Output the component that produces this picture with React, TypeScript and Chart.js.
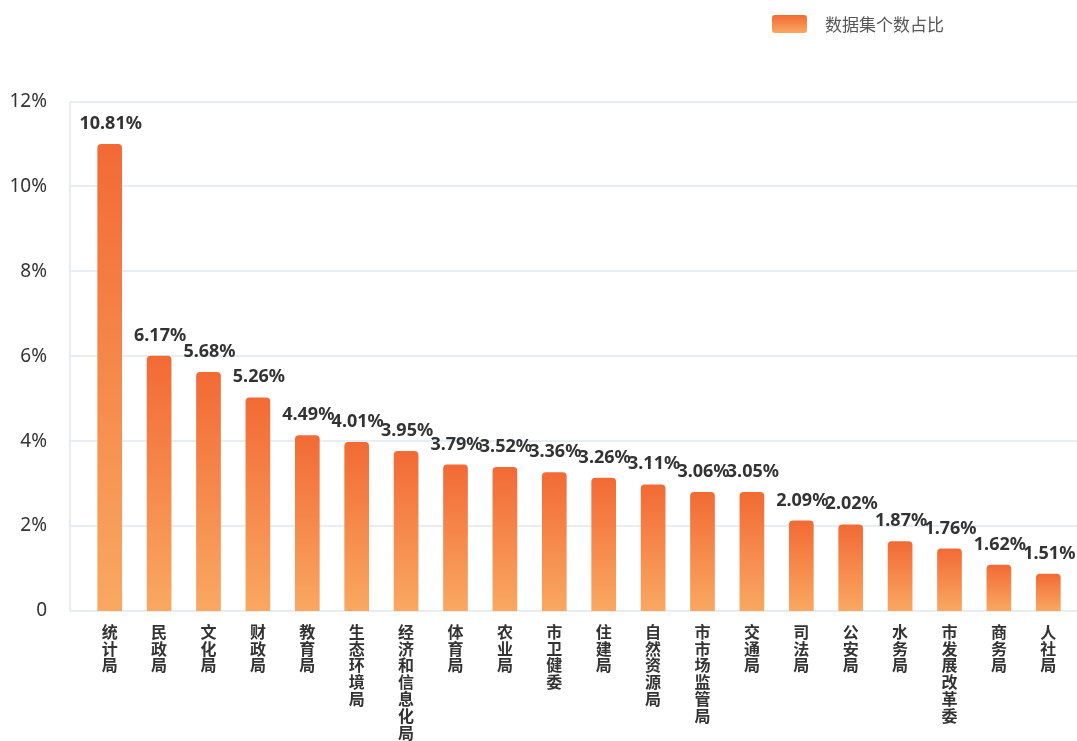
import React, { useEffect, useRef } from 'react';
import { Chart, registerables } from 'chart.js';

Chart.register(...registerables);

const categories = [
  '统计局', '民政局', '文化局', '财政局', '教育局', '生态环境局', '经济和信息化局',
  '体育局', '农业局', '市卫健委', '住建局', '自然资源局', '市市场监管局', '交通局',
  '司法局', '公安局', '水务局', '市发展改革委', '商务局', '人社局',
];

const barValues = [
  11.0, 6.01, 5.63, 5.03, 4.14, 3.98, 3.77, 3.45, 3.39, 3.27,
  3.14, 2.98, 2.8, 2.8, 2.13, 2.04, 1.64, 1.47, 1.09, 0.88,
];

const valueLabels = [
  '10.81%', '6.17%', '5.68%', '5.26%', '4.49%', '4.01%', '3.95%', '3.79%', '3.52%', '3.36%',
  '3.26%', '3.11%', '3.06%', '3.05%', '2.09%', '2.02%', '1.87%', '1.76%', '1.62%', '1.51%',
];

const seriesName = '数据集个数占比';
const yMin = 0;
const yMax = 12;
const yStep = 2;

const TOP_COLOR = '#F26A35';
const BOTTOM_COLOR = '#F9A862';
const GRID_COLOR = '#E8EDF4';

const gridPlugin = {
  id: 'extendedGrid',
  beforeDatasetsDraw(chart: any) {
    const { ctx, chartArea, scales } = chart;
    const y = scales.y;
    const left = chartArea.left - 15;
    ctx.save();
    ctx.strokeStyle = GRID_COLOR;
    ctx.lineWidth = 2;
    y.ticks.forEach((t: any) => {
      const py = Math.round(y.getPixelForValue(t.value));
      ctx.beginPath();
      ctx.moveTo(left, py);
      ctx.lineTo(chart.width, py);
      ctx.stroke();
    });
    ctx.beginPath();
    ctx.moveTo(left, Math.round(y.getPixelForValue(yMax)));
    ctx.lineTo(left, Math.round(y.getPixelForValue(yMin)) + 1);
    ctx.stroke();
    ctx.restore();
  },
};

const labelPlugin = {
  id: 'barLabels',
  afterDatasetsDraw(chart: any) {
    const { ctx } = chart;
    const meta = chart.getDatasetMeta(0);
    ctx.save();
    ctx.font = 'bold 18px "Noto Sans", sans-serif';
    ctx.fillStyle = '#333333';
    ctx.textAlign = 'center';
    ctx.textBaseline = 'alphabetic';
    meta.data.forEach((el: any, i: number) => {
      ctx.fillText(valueLabels[i], el.x + 1, el.y - 15);
    });
    ctx.restore();
  },
};

const legendPlugin = {
  id: 'customLegend',
  afterDraw(chart: any) {
    const { ctx } = chart;
    const bx = 772, by = 15, bw = 35, bh = 18;
    ctx.save();
    const g = ctx.createLinearGradient(0, by, 0, by + bh);
    g.addColorStop(0, TOP_COLOR);
    g.addColorStop(1, BOTTOM_COLOR);
    ctx.fillStyle = g;
    ctx.beginPath();
    ctx.roundRect(bx, by, bw, bh, 3);
    ctx.fill();
    ctx.font = '17px "Noto Sans CJK SC", sans-serif';
    ctx.fillStyle = '#555555';
    ctx.textAlign = 'left';
    ctx.textBaseline = 'middle';
    ctx.fillText(seriesName, 825, by + bh / 2 + 1);
    ctx.restore();
  },
};

export default function App() {
  const canvasRef = useRef<HTMLCanvasElement | null>(null);

  useEffect(() => {
    document.body.style.margin = '0';
    const canvas = canvasRef.current;
    if (!canvas) return;
    const chart = new Chart(canvas, {
      type: 'bar',
      data: {
        labels: categories,
        datasets: [
          {
            label: seriesName,
            data: barValues,
            backgroundColor: (c: any) => {
              const ch = c.chart;
              const { chartArea, scales } = ch;
              if (!chartArea || c.raw == null) return TOP_COLOR;
              const top = scales.y.getPixelForValue(c.raw);
              const bottom = scales.y.getPixelForValue(0);
              if (!isFinite(top) || !isFinite(bottom) || top === bottom) return TOP_COLOR;
              const g = ch.ctx.createLinearGradient(0, top, 0, bottom);
              g.addColorStop(0, TOP_COLOR);
              g.addColorStop(1, BOTTOM_COLOR);
              return g;
            },
            borderRadius: { topLeft: 4, topRight: 4, bottomLeft: 0, bottomRight: 0 },
            borderSkipped: 'bottom',
            categoryPercentage: 1,
            barPercentage: 0.5,
          },
        ],
      },
      options: {
        responsive: false,
        animation: false,
        devicePixelRatio: 1,
        layout: { padding: { top: 101.5, right: 4, left: 0, bottom: 0 } },
        plugins: {
          legend: { display: false },
          tooltip: { enabled: false },
        },
        scales: {
          x: {
            grid: { display: false },
            border: { display: false },
            ticks: {
              autoSkip: false,
              maxRotation: 0,
              minRotation: 0,
              padding: 4,
              color: '#333333',
              font: { family: '"Noto Sans CJK SC", sans-serif', size: 16, weight: 'bold', lineHeight: 1.06 },
              callback: (_v: any, i: number) => categories[i].split(''),
            },
            afterFit: (scale: any) => {
              scale.height = 130;
            },
          },
          y: {
            min: yMin,
            max: yMax,
            grid: { display: false },
            border: { display: false },
            ticks: {
              stepSize: yStep,
              padding: 30,
              color: '#333333',
              font: { family: '"Noto Sans", sans-serif', size: 19 },
              callback: (v: any) => (v === 0 ? '0' : `${v}%`),
            },
            afterFit: (scale: any) => {
              scale.width = 85;
            },
          },
        },
      },
      plugins: [gridPlugin, labelPlugin, legendPlugin],
    });
    return () => chart.destroy();
  }, []);

  return (
    <div style={{ width: 1077, height: 741, position: 'relative' }}>
      <canvas ref={canvasRef} width={1077} height={741} style={{ display: 'block' }} />
    </div>
  );
}
